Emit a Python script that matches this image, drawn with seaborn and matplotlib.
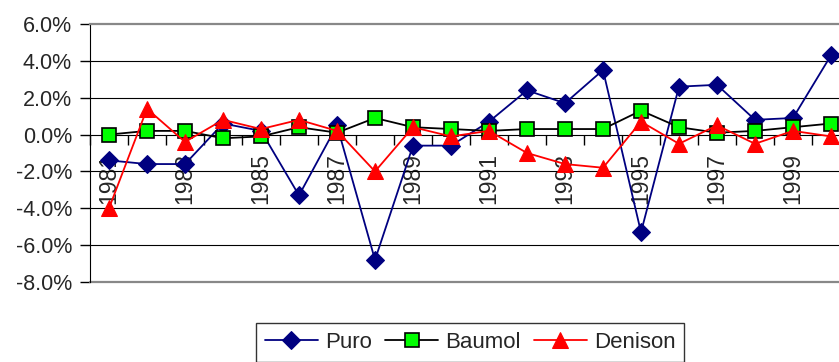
import seaborn as sns
import pandas as pd
import matplotlib
matplotlib.use("Agg")
import matplotlib.pyplot as plt
from matplotlib.ticker import FuncFormatter

# Data (percent)
years = list(range(1981, 2001))
puro = [-1.4, -1.6, -1.6, 0.6, 0.2, -3.3, 0.5, -6.8, -0.6, -0.6,
        0.7, 2.4, 1.7, 3.5, -5.3, 2.6, 2.7, 0.8, 0.9, 4.3]
baumol = [0.0, 0.2, 0.2, -0.2, -0.1, 0.4, 0.1, 0.9, 0.4, 0.3,
          0.2, 0.3, 0.3, 0.3, 1.3, 0.4, 0.1, 0.2, 0.4, 0.6]
denison = [-4.0, 1.4, -0.4, 0.8, 0.3, 0.8, 0.2, -2.0, 0.4, -0.1,
           0.2, -1.0, -1.6, -1.8, 0.7, -0.5, 0.5, -0.5, 0.2, -0.1]
y_ticks = [-8, -6, -4, -2, 0, 2, 4, 6]

df = pd.DataFrame({"year": years, "Puro": puro, "Baumol": baumol, "Denison": denison})
df["pos"] = range(len(df))

sns.set_style("white")
plt.rcParams["font.family"] = ["Liberation Sans", "DejaVu Sans"]

fig = plt.figure(figsize=(8.39, 3.62), dpi=100)
ax = fig.add_axes([90 / 839, 1 - 282 / 362, (850 - 90) / 839, 258 / 362])

# Series
sns.lineplot(data=df, x="pos", y="Puro", ax=ax, color="#000080", lw=1.3,
             marker="D", markersize=9, markeredgecolor="#000080",
             markerfacecolor="#000080", label="Puro", zorder=3)
sns.lineplot(data=df, x="pos", y="Baumol", ax=ax, color="black", lw=1.3,
             marker="s", markersize=10, markeredgecolor="black", markeredgewidth=1.2,
             markerfacecolor="#00FF00", label="Baumol", zorder=4)
sns.lineplot(data=df, x="pos", y="Denison", ax=ax, color="#FF0000", lw=1.3,
             marker="^", markersize=11, markeredgecolor="#FF0000",
             markerfacecolor="#FF0000", label="Denison", zorder=5)

# Gridlines
for g in [-6, -4, -2, 2, 4]:
    ax.axhline(g, color="black", lw=0.8, zorder=1)
ax.axhline(-8, color="#888888", lw=1.6, zorder=1, clip_on=False)

ax.set_xlim(-0.5, len(years) - 0.5)
ax.set_ylim(-8, 6)
ax.set_xlabel("")
ax.set_ylabel("")

# Y axis
ax.set_yticks(y_ticks)
ax.yaxis.set_major_formatter(FuncFormatter(lambda v, p: f"{v:.1f}%"))
ax.tick_params(axis="y", direction="out", length=7, width=1, pad=6,
               labelsize=15.5, left=True, color="black")

# X axis at y=0, categories labelled every other year
ax.spines["bottom"].set_position(("data", 0))
ax.spines["bottom"].set_color("black")
ax.spines["left"].set_color("black")
ax.spines["top"].set_color("#888888")
ax.spines["top"].set_linewidth(1.6)
ax.spines["right"].set_visible(False)
ax.set_xticks(df["pos"][::2])
ax.set_xticklabels([str(y) for y in years[::2]], rotation=90, va="top", ha="center")
ax.set_xticks([i - 0.5 for i in range(len(years) + 1)], minor=True)
ax.tick_params(axis="x", which="major", length=0, pad=13, labelsize=16.5)
ax.tick_params(axis="x", which="minor", direction="out", length=7, width=1,
               bottom=True, color="black")

# Legend
ax.legend(loc="upper center", bbox_to_anchor=(470 / 839, 1 - 323 / 362),
          bbox_transform=fig.transFigure, ncol=3, frameon=True, fancybox=False,
          edgecolor="black", fontsize=16, handlelength=2.4, handletextpad=0.3,
          columnspacing=0.6, borderpad=0.4, borderaxespad=0)
leg = ax.get_legend()
leg.get_frame().set_linewidth(1.0)

fig.savefig("out.png", dpi=100)
